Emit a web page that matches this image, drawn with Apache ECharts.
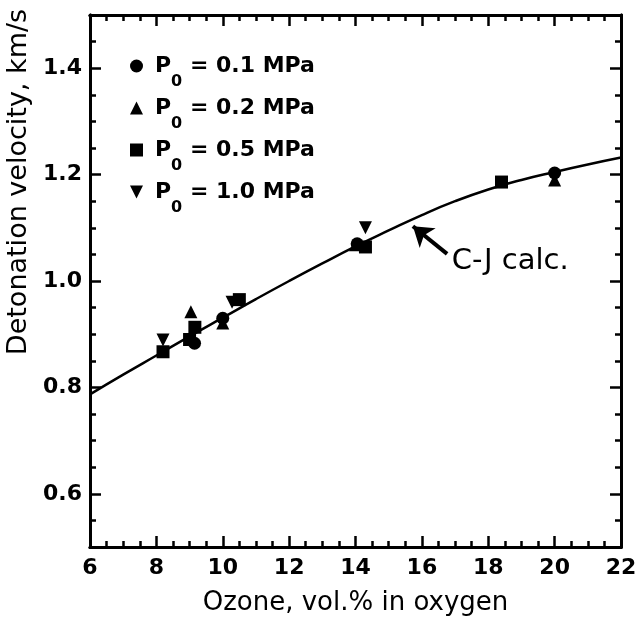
<!DOCTYPE html>
<html><head><meta charset="utf-8">
<script src="https://cdn.jsdelivr.net/npm/echarts@6/dist/echarts.min.js"></script>
<style>html,body{margin:0;padding:0;background:#fff}#c{width:637px;height:626px}</style>
</head><body><div id="c"></div>
<script>
// Calculated C-J curve
const cjOzone = [6, 7, 8, 9, 10, 11, 12, 13, 14, 15, 16, 17, 18, 19, 20, 21, 22];
const cjVel   = [0.787, 0.824, 0.860, 0.896, 0.931, 0.966, 1.000, 1.033, 1.065, 1.095, 1.124, 1.150, 1.172, 1.190, 1.205, 1.219, 1.232];
// Measurements
const p01Ozone = [9.15, 10.0, 14.05, 20.0];
const p01Vel   = [0.883, 0.930, 1.070, 1.203];
const p02Ozone = [9.04, 10.0, 14.0, 20.0];
const p02Vel   = [0.942, 0.921, 1.068, 1.190];
const p05Ozone = [8.2, 9.0, 9.16, 10.5, 14.3, 18.4];
const p05Vel   = [0.867, 0.890, 0.913, 0.965, 1.064, 1.186];
const p10Ozone = [8.2, 10.28, 14.3];
const p10Vel   = [0.889, 0.960, 1.100];
const seriesNames = ['0.1', '0.2', '0.5', '1.0'];
const yMajorTicks = [0.6, 0.8, 1.0, 1.2, 1.4];
const xTitle = 'Ozone, vol.% in oxygen';
const yTitle = 'Detonation velocity, km/s';
const cjLabel = 'C-J calc.';
const arrowFrom = [16.76, 1.051];
const arrowTo = [15.73, 1.103];
const labelAt = [16.9, 1.036];

const zip = (a, b) => a.map((v, i) => [v, b[i]]);
const FONT = '"DejaVu Sans", "Liberation Sans", Arial, sans-serif';
const BLACK = '#000';
const INV_TRI = 'path://M0,0L10,0L5,10Z';

const chart = echarts.init(document.getElementById('c'), null, {renderer: 'canvas'});

function xAxisDef(pos, major, labels) {
  return {
    type: 'value', position: pos, min: 6, max: 22, interval: major ? 2 : 0.5,
    axisLine: {show: true, onZero: false, lineStyle: {color: BLACK, width: 3}},
    axisTick: {show: true, inside: true, length: major ? 11 : 6, lineStyle: {color: BLACK, width: 2.5}},
    axisLabel: {show: labels, color: BLACK, fontSize: 22, fontWeight: 'bold', fontFamily: FONT, margin: 10},
    splitLine: {show: false},
    name: labels ? xTitle : '', nameLocation: 'middle', nameGap: 43,
    nameTextStyle: {color: BLACK, fontSize: 26, fontFamily: FONT}
  };
}
function yAxisDef(pos, major, labels) {
  const ax = {
    type: 'value', position: pos, min: 0.5, max: 1.5, interval: major ? 0.1 : 0.05,
    axisLine: {show: true, onZero: false, lineStyle: {color: BLACK, width: 3}},
    axisTick: {show: true, inside: true, length: major ? 11 : 6, lineStyle: {color: BLACK, width: 2.5}},
    axisLabel: {show: labels, color: BLACK, fontSize: 22, fontWeight: 'bold', fontFamily: FONT, margin: 8,
      formatter: v => (yMajorTicks.some(t => Math.abs(t - v) < 1e-6) ? v.toFixed(1) : '')},
    splitLine: {show: false},
    name: labels ? yTitle : '', nameLocation: 'middle', nameGap: 50,
    nameTextStyle: {color: BLACK, fontSize: 27, fontFamily: FONT, padding: [0, 0, 0, 198]}
  };
  if (major) {
    ax.axisTick.customValues = yMajorTicks;
    ax.axisLabel.customValues = yMajorTicks;
  }
  return ax;
}

const legendRich = {
  a: {fontSize: 22, fontFamily: FONT, fontWeight: 'bold', color: BLACK, lineHeight: 48, verticalAlign: 'middle'},
  s: {fontSize: 16, fontFamily: FONT, fontWeight: 'bold', color: BLACK, lineHeight: 16, verticalAlign: 'bottom'}
};

function scatter(name, xs, ys, symbol) {
  return {
    type: 'scatter', name: name, data: zip(xs, ys), symbol: symbol, symbolSize: 13,
    itemStyle: {color: BLACK, opacity: 1}, xAxisIndex: 0, yAxisIndex: 0, z: 5
  };
}

const option = {
  animation: false,
  backgroundColor: '#fff',
  grid: {left: 90, right: 16, top: 15, bottom: 79, containLabel: false, outerBoundsMode: 'none'},
  xAxis: [xAxisDef('bottom', true, true), xAxisDef('bottom', false, false),
          xAxisDef('top', true, false), xAxisDef('top', false, false)],
  yAxis: [yAxisDef('left', true, true), yAxisDef('left', false, false),
          yAxisDef('right', true, false), yAxisDef('right', false, false)],
  legend: {
    orient: 'vertical', left: 125, top: 50, itemGap: 7, itemWidth: 13, itemHeight: 13,
    data: seriesNames.map(n => 'P0 = ' + n + ' MPa'),
    formatter: n => '{a|P}{s|0}{a| = ' + n.split(' = ')[1] + '}',
    textStyle: {rich: legendRich, padding: [0, 0, 0, 7]},
    itemStyle: {color: BLACK, opacity: 1}
  },
  series: [
    {
      type: 'line', name: 'C-J', data: zip(cjOzone, cjVel), smooth: true, showSymbol: false,
      lineStyle: {color: BLACK, width: 2.5}, xAxisIndex: 0, yAxisIndex: 0, z: 3,
      markLine: {
        silent: true, symbol: ['none', 'arrow'], symbolSize: 19,
        lineStyle: {color: BLACK, width: 4, type: 'solid'},
        itemStyle: {color: BLACK},
        label: {show: false},
        data: [[{coord: arrowFrom}, {coord: arrowTo}]]
      },
      markPoint: {
        silent: true, symbol: 'circle', symbolSize: 0,
        label: {show: true, position: 'right', distance: 0, formatter: cjLabel, color: BLACK,
          fontSize: 29, fontFamily: FONT},
        data: [{coord: labelAt}]
      }
    },
    scatter('P0 = 0.1 MPa', p01Ozone, p01Vel, 'circle'),
    scatter('P0 = 0.2 MPa', p02Ozone, p02Vel, 'triangle'),
    scatter('P0 = 0.5 MPa', p05Ozone, p05Vel, 'rect'),
    scatter('P0 = 1.0 MPa', p10Ozone, p10Vel, INV_TRI)
  ]
};
chart.setOption(option);
</script></body></html>
